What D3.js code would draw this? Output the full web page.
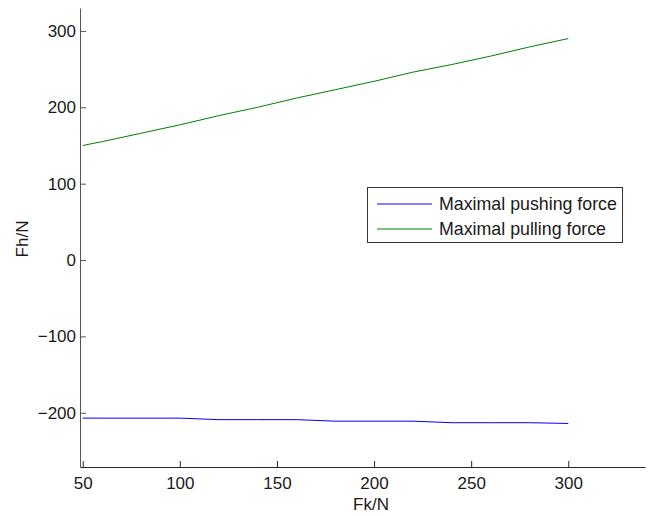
<!DOCTYPE html>
<html><head><meta charset="utf-8">
<script src="https://cdn.jsdelivr.net/npm/d3@7"></script>
<style>body{margin:0;background:#fff}svg{display:block}text{font-family:"Liberation Sans",Arial,sans-serif}</style>
</head><body>
<svg id="c" width="650" height="516"></svg>
<script>
const fk = [50, 60, 80, 100, 120, 140, 160, 180, 200, 220, 240, 260, 280, 300];
const pushing = [-207, -207, -207, -207, -209, -209, -209, -211, -211, -211, -213, -213, -213, -214];
const pulling = [150, 155, 166, 177, 189, 200, 212, 223, 234, 246, 256, 267, 279, 290];
const xTicks = [50, 100, 150, 200, 250, 300];
const yTicks = [-200, -100, 0, 100, 200, 300];
const seriesNames = ["Maximal pushing force", "Maximal pulling force"];
const seriesColors = ["#0000ff", "#008000"];

const svg = d3.select("#c");
const x = d3.scaleLinear().domain([48.6, 339.5]).range([80, 645]);
const y = d3.scaleLinear().domain([-271, 330]).range([467, 8]);

// axes
const xAxis = d3.axisBottom(x).tickValues(xTicks).tickSizeInner(-6).tickSizeOuter(0).tickPadding(10);
const gx = svg.append("g").attr("transform", "translate(0,467)").call(xAxis);
gx.select(".domain").attr("stroke", "#262626");
gx.selectAll(".tick line").attr("stroke", "#262626");
gx.selectAll(".tick text").attr("font-size", 17).attr("fill", "#1a1a1a");

const yAxis = d3.axisLeft(y).tickValues(yTicks).tickSizeInner(-6).tickSizeOuter(0).tickPadding(4)
  .tickFormat(d => d < 0 ? "\u2212" + Math.abs(d) : d);
const gy = svg.append("g").attr("transform", "translate(80,0)").call(yAxis);
gy.select(".domain").attr("stroke", "#555");
gy.selectAll(".tick line").attr("stroke", "#555");
gy.selectAll(".tick text").attr("font-size", 17).attr("fill", "#1a1a1a");

// labels
svg.append("text").attr("x", 371).attr("y", 510).attr("text-anchor", "middle")
  .attr("font-size", 17).attr("fill", "#1a1a1a").text("Fk/N");
svg.append("text").attr("transform", "translate(27.5,239) rotate(-90)").attr("text-anchor", "middle")
  .attr("font-size", 17).attr("fill", "#1a1a1a").text("Fh/N");

// lines
const line = d3.line().x((d, i) => x(fk[i])).y(d => y(d));
[pushing, pulling].forEach((s, i) => {
  svg.append("path").attr("d", line(s)).attr("fill", "none")
    .attr("stroke", seriesColors[i]).attr("stroke-width", 1);
});

// legend
const lg = svg.append("g");
lg.append("rect").attr("x", 367.5).attr("y", 187.5).attr("width", 255).attr("height", 55)
  .attr("fill", "#fff").attr("stroke", "#333").attr("stroke-width", 1);
seriesNames.forEach((n, i) => {
  const yy = 204 + i * 25;
  lg.append("line").attr("x1", 377).attr("x2", 432).attr("y1", yy).attr("y2", yy)
    .attr("stroke", seriesColors[i]).attr("stroke-width", 1);
  lg.append("text").attr("x", 439).attr("y", yy + 6).attr("font-size", 17.8)
    .attr("fill", "#1a1a1a").text(n);
});
</script>
</body></html>
